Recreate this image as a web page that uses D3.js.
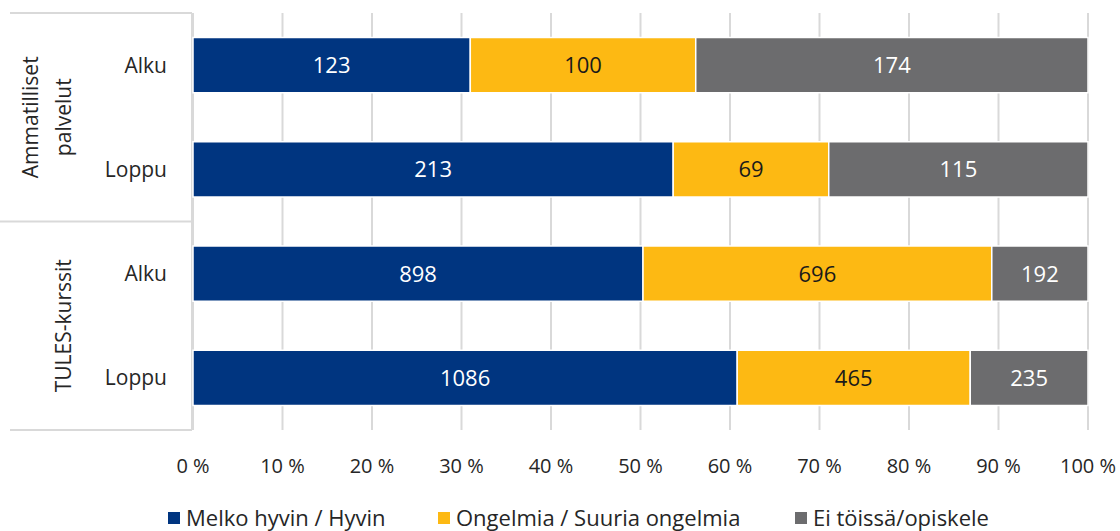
<!DOCTYPE html>
<html>
<head>
<meta charset="utf-8">
<script src="https://cdn.jsdelivr.net/npm/d3@7"></script>
<style>
  body { margin: 0; background: #fff; }
  text { font-family: "Open Sans", "Noto Sans", sans-serif; }
</style>
</head>
<body>
<svg id="chart" width="1120" height="531"></svg>
<script>
// data
var groups = ["Ammatilliset palvelut", "TULES-kurssit"];
var rows = ["Alku", "Loppu", "Alku", "Loppu"];
var rowGroup = [0, 0, 1, 1];
var seriesNames = ["Melko hyvin / Hyvin", "Ongelmia / Suuria ongelmia", "Ei töissä/opiskele"];
var hyvin = [123, 213, 898, 1086];
var ongelmia = [100, 69, 696, 465];
var eiTyossa = [174, 115, 192, 235];
var colors = ["#003580", "#fdb913", "#6c6c6e"];
var labelColors = ["#fff", "#1a1a1a", "#fff"];

var table = rows.map(function(r, i) {
    return { id: i, row: r, s0: hyvin[i], s1: ongelmia[i], s2: eiTyossa[i] };
});

var svg = d3.select("#chart");
var plotLeft = 193, plotRight = 1088, plotTop = 13, plotBottom = 430;

var x = d3.scaleLinear().domain([0, 1]).range([plotLeft, plotRight]);
var y = d3.scaleBand().domain(d3.range(rows.length)).range([plotTop, plotBottom]).paddingInner(0.47).paddingOuter(0.235);

// gridlines
svg.append("g")
    .selectAll("line")
    .data(x.ticks(10))
    .enter()
    .append("line")
    .attr("x1", function(d){ return x(d); })
    .attr("x2", function(d){ return x(d); })
    .attr("y1", plotTop)
    .attr("y2", plotBottom)
    .style("stroke", "#d9d9d9")
    .style("stroke-width", 2);

// left axis frame
var frame = svg.append("g").style("stroke", "#d9d9d9").style("stroke-width", 2);
frame.append("line").attr("x1", 192).attr("x2", 192).attr("y1", plotTop).attr("y2", plotBottom);
[plotTop, (plotTop + plotBottom) / 2, plotBottom].forEach(function(v, i) {
    frame.append("line").attr("x1", i == 1 ? 0 : 10).attr("x2", 192).attr("y1", v).attr("y2", v);
});

// stacked bars
var stack = d3.stack().keys(["s0", "s1", "s2"]).offset(d3.stackOffsetExpand);
var layers = stack(table);

var layer = svg.selectAll(".layer")
    .data(layers)
    .enter()
    .append("g")
    .attr("class", "layer")
    .style("fill", function(d, i){ return colors[i]; });

layer.selectAll("rect")
    .data(function(d){ return d; })
    .enter()
    .append("rect")
    .attr("x", function(d){ return x(d[0]); })
    .attr("y", function(d){ return y(d.data.id); })
    .attr("width", function(d){ return x(d[1]) - x(d[0]); })
    .attr("height", y.bandwidth())
    .style("stroke", "#fff")
    .style("stroke-width", 1.5);

layer.selectAll("text")
    .data(function(d, i){ return d.map(function(p){ return { p: p, k: i }; }); })
    .enter()
    .append("text")
    .attr("x", function(d){ return (x(d.p[0]) + x(d.p[1])) / 2; })
    .attr("y", function(d){ return y(d.p.data.id) + y.bandwidth() / 2; })
    .attr("dy", "0.36em")
    .attr("text-anchor", "middle")
    .style("font-size", "22px")
    .style("fill", function(d){ return labelColors[d.k]; })
    .text(function(d){ return d.p.data["s" + d.k]; });

// category labels
svg.append("g")
    .selectAll("text")
    .data(table)
    .enter()
    .append("text")
    .attr("x", 167)
    .attr("y", function(d){ return y(d.id) + y.bandwidth() / 2; })
    .attr("dy", "0.36em")
    .attr("text-anchor", "end")
    .style("font-size", "21px")
    .style("fill", "#262626")
    .text(function(d){ return d.row; });

// group labels (rotated)
var groupLines = [["Ammatilliset", "palvelut"], ["TULES-kurssit"]];
groups.forEach(function(g, gi) {
    var idx = rowGroup.map(function(v, i){ return v == gi ? i : -1; }).filter(function(v){ return v >= 0; });
    var cy = (y(idx[0]) + y(idx[idx.length - 1]) + y.bandwidth()) / 2;
    var lines = groupLines[gi];
    var t = svg.append("text")
        .attr("transform", "translate(" + 63 + "," + cy + ") rotate(-90)")
        .attr("text-anchor", "middle")
        .style("font-size", "21px")
        .style("fill", "#262626");
    lines.forEach(function(l, li) {
        t.append("tspan")
            .attr("x", 0)
            .attr("y", (li - (lines.length - 1)) * 33)
            .attr("dy", "0.36em")
            .text(l);
    });
});

// x axis tick labels
svg.append("g")
    .selectAll("text")
    .data(x.ticks(10))
    .enter()
    .append("text")
    .attr("x", function(d){ return x(d); })
    .attr("y", 473)
    .attr("text-anchor", "middle")
    .style("font-size", "20px")
    .style("fill", "#262626")
    .text(function(d){ return Math.round(d * 100) + " %"; });

// legend
var legendX = [168, 438, 795];
var legend = svg.append("g")
    .selectAll("g")
    .data(seriesNames)
    .enter()
    .append("g")
    .attr("transform", function(d, i){ return "translate(" + legendX[i] + ",512)"; });

legend.append("rect")
    .attr("width", 12)
    .attr("height", 12)
    .style("fill", function(d, i){ return colors[i]; });

legend.append("text")
    .attr("x", 18)
    .attr("y", 6)
    .attr("dy", "0.36em")
    .style("font-size", "22px")
    .style("fill", "#262626")
    .text(function(d){ return d; });
</script>
</body>
</html>
